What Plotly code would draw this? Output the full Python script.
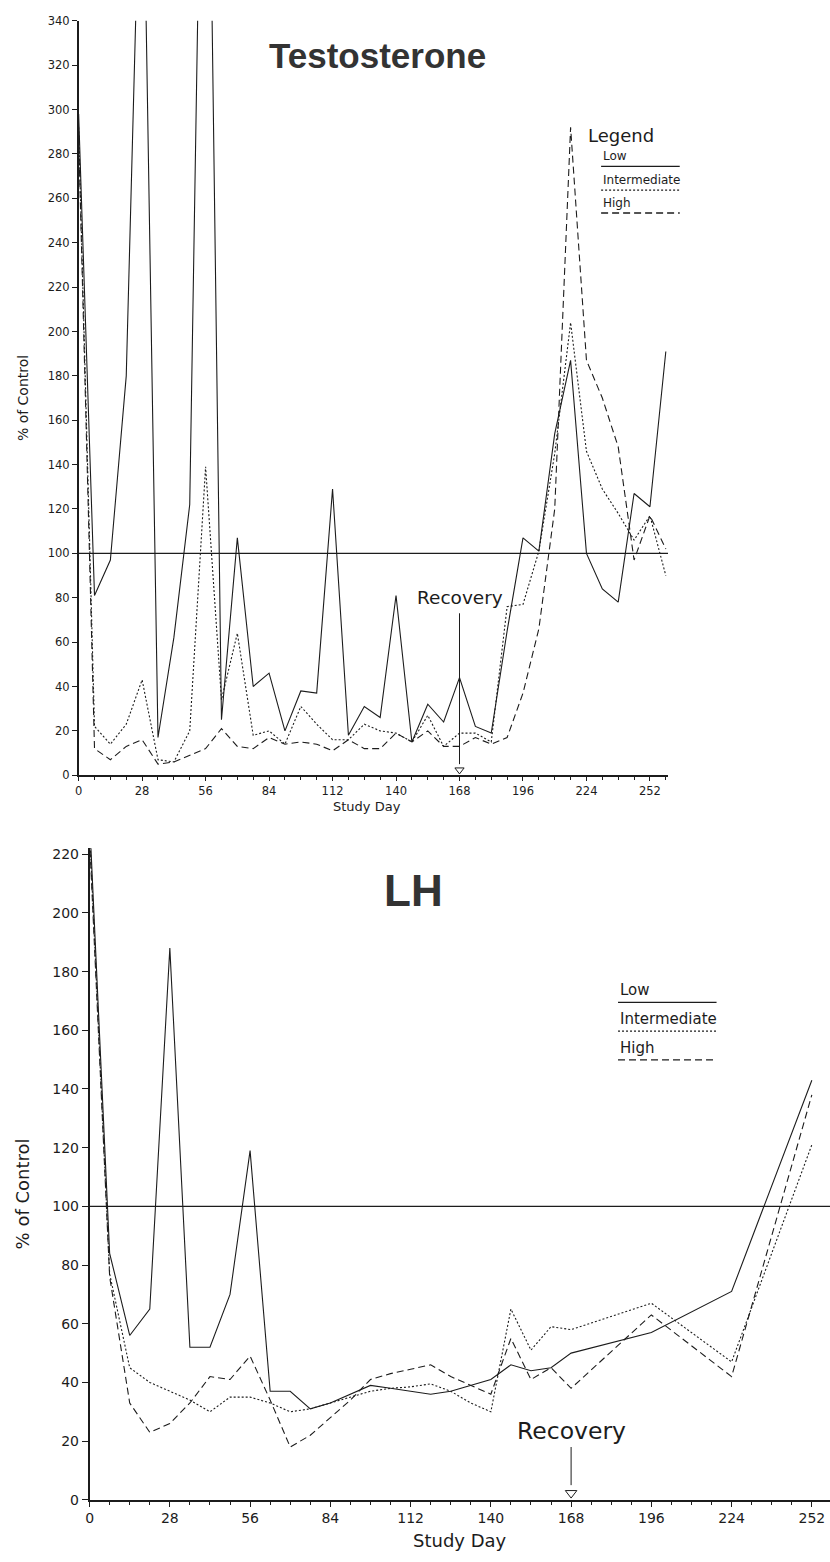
import plotly.graph_objects as go

W, H = 830, 1562

# ---------------- data ----------------
SERIES = ["Low", "Intermediate", "High"]

T_DAYS = [0, 7, 14, 21, 28, 35, 42, 49, 56, 63, 70, 77, 84, 91, 98, 105, 112, 119, 126,
          133, 140, 147, 154, 161, 168, 175, 182, 189, 196, 203, 210, 217, 224, 231,
          238, 245, 252, 259]
T_LOW = [298, 81, 97, 180, 450, 17, 62, 122, 560, 25, 107, 40, 46, 20, 38, 37, 129, 18, 31,
         26, 81, 15, 32, 24, 44, 22, 19, 65, 107, 101, 154, 187, 100, 84, 78, 127, 121, 191]
T_INT = [292, 22, 14, 23, 43, 7, 6, 20, 139, 34, 64, 18, 20, 14, 31, 23, 16, 16, 23,
         20, 19, 15, 27, 13, 19, 19, 15, 76, 77, 101, 145, 204, 146, 129, 118, 106, 117, 90]
T_HIGH = [288, 12, 7, 13, 16, 5, 6, 9, 12, 21, 13, 12, 17, 14, 15, 14, 11, 16, 12,
          12, 19, 15, 20, 13, 13, 17, 14, 17, 37, 66, 120, 292, 187, 170, 148, 97, 117, 102]

LH_DAYS = [0, 7, 14, 21, 28, 35, 42, 49, 56, 63, 70, 77, 84, 91, 98, 105, 112, 119, 126,
           133, 140, 147, 154, 161, 168, 196, 224, 252]
LH_LOW = [232, 84, 56, 65, 188, 52, 52, 70, 119, 37, 37, 31, 33, 36, 39, 38, 37, 36, 37,
          39, 41, 46, 44, 45, 50, 57, 71, 143]
LH_INT = [228, 77, 45, 40, 37, 34, 30, 35, 35, 33, 30, 31, 33, 35, 37, 38, 38.5, 39.5, 37,
          33, 30, 65, 51, 59, 58, 67, 47, 121]
LH_HIGH = [225, 76, 33, 23, 26, 33, 42, 41, 49, 34, 18, 22, 28, 34, 41, 43, 44.5, 46, 42,
           39, 36, 55, 41, 45, 38, 63, 42, 138]

X_TICKS = [0, 28, 56, 84, 112, 140, 168, 196, 224, 252]
T_Y_TICKS = list(range(0, 341, 20))
LH_Y_TICKS = list(range(0, 221, 20))
RECOVERY_DAY = 168
CONTROL_LEVEL = 100

# ---------------- helpers ----------------
def fx(p):
    return p / W


def fy(p):
    return 1 - p / H


INK = "#1c1c1c"
TICK_FONT = "DejaVu Sans"
DASHES = {"Low": "solid", "Intermediate": "2px,2px", "High": "7px,4px"}

T_XMAX = 260
LH_XMAX = (830 - 86) / 2.88
T_YMAX = 340
LH_YMAX = 222

fig = go.Figure()

for name, vals in zip(SERIES, [T_LOW, T_INT, T_HIGH]):
    fig.add_trace(go.Scatter(x=T_DAYS, y=vals, mode="lines", name=name, showlegend=False,
                             xaxis="x", yaxis="y",
                             line=dict(color=INK, width=1.1, dash=DASHES[name])))
for name, vals in zip(SERIES, [LH_LOW, LH_INT, LH_HIGH]):
    fig.add_trace(go.Scatter(x=LH_DAYS, y=vals, mode="lines", name=name, showlegend=False,
                             xaxis="x2", yaxis="y2",
                             line=dict(color=INK, width=1.1, dash=DASHES[name])))

# open arrow heads of the recovery arrows
fig.add_trace(go.Scatter(x=[RECOVERY_DAY], y=[2.4], mode="markers", xaxis="x", yaxis="y",
                         showlegend=False, cliponaxis=False, hoverinfo="skip",
                         marker=dict(symbol="triangle-down-open", size=8,
                                     line=dict(color=INK, width=1), color=INK)))
fig.add_trace(go.Scatter(x=[RECOVERY_DAY], y=[2.3], mode="markers", xaxis="x2", yaxis="y2",
                         showlegend=False, cliponaxis=False, hoverinfo="skip",
                         marker=dict(symbol="triangle-down-open", size=10,
                                     line=dict(color=INK, width=1), color=INK)))

axis_common = dict(showline=True, linecolor=INK, linewidth=1.5, showgrid=False,
                   zeroline=False, ticks="outside", tickcolor=INK, tickwidth=1,
                   mirror=False)

fig.update_layout(
    width=W, height=H,
    margin=dict(l=0, r=0, t=0, b=0),
    paper_bgcolor="white", plot_bgcolor="white",
    showlegend=False,
    xaxis=dict(domain=[fx(75), fx(667.3)], range=[0, T_XMAX], anchor="y",
               tickvals=X_TICKS, ticklen=4,
               tickfont=dict(family=TICK_FONT, size=11.5, color=INK),
               minor=dict(dtick=7, tick0=0, ticks="outside", ticklen=3, tickcolor=INK),
               **axis_common),
    yaxis=dict(domain=[fy(775.7), fy(14)], range=[0, T_YMAX], anchor="x",
               tickvals=T_Y_TICKS, ticklen=5,
               tickfont=dict(family=TICK_FONT, size=11.5, color=INK),
               **axis_common),
    xaxis2=dict(domain=[fx(86), 1.0], range=[0, LH_XMAX], anchor="y2",
                tickvals=X_TICKS, ticklen=5,
                tickfont=dict(family=TICK_FONT, size=14, color=INK),
                minor=dict(dtick=7, tick0=0, ticks="outside", ticklen=3, tickcolor=INK),
                **axis_common),
    yaxis2=dict(domain=[fy(1507.3), fy(1507.3 - LH_YMAX * 2.963)], range=[0, LH_YMAX],
                anchor="x2", tickvals=LH_Y_TICKS, ticklen=6,
                tickfont=dict(family=TICK_FONT, size=14, color=INK),
                **axis_common),
)

shapes = [
    dict(type="line", xref="x", yref="y", x0=0, x1=T_XMAX, y0=CONTROL_LEVEL, y1=CONTROL_LEVEL,
         line=dict(color=INK, width=1.3)),
    dict(type="line", xref="x2", yref="y2", x0=0, x1=LH_XMAX, y0=CONTROL_LEVEL,
         y1=CONTROL_LEVEL, line=dict(color=INK, width=1.3)),
    dict(type="line", xref="x", yref="y", x0=RECOVERY_DAY, x1=RECOVERY_DAY, y0=73, y1=5,
         line=dict(color=INK, width=1)),
    dict(type="line", xref="x2", yref="y2", x0=RECOVERY_DAY, x1=RECOVERY_DAY, y0=18, y1=5,
         line=dict(color=INK, width=1)),
]

annotations = [
    dict(text="Testosterone", x=fx(375), y=fy(49), xref="paper", yref="paper",
         showarrow=False, xanchor="center", yanchor="middle",
         font=dict(family="Liberation Sans, Arial", size=35, color="#333333", weight=700)),
    dict(text="LH", x=fx(411), y=fy(892), xref="paper", yref="paper",
         showarrow=False, xanchor="center", yanchor="middle",
         font=dict(family="Liberation Sans, Arial", size=44, color="#333333", weight=700)),
    dict(text="% of Control", x=fx(19), y=fy(395), xref="paper", yref="paper",
         showarrow=False, textangle=-90, xanchor="center", yanchor="middle",
         font=dict(family=TICK_FONT, size=14, color=INK)),
    dict(text="Study Day", x=fx(365), y=fy(807), xref="paper", yref="paper",
         showarrow=False, xanchor="center", yanchor="middle",
         font=dict(family=TICK_FONT, size=13, color=INK)),
    dict(text="% of Control", x=fx(19), y=fy(1198), xref="paper", yref="paper",
         showarrow=False, textangle=-90, xanchor="center", yanchor="middle",
         font=dict(family=TICK_FONT, size=18, color=INK)),
    dict(text="Study Day", x=fx(458), y=fy(1548), xref="paper", yref="paper",
         showarrow=False, xanchor="center", yanchor="middle",
         font=dict(family=TICK_FONT, size=18, color=INK)),
    dict(text="Recovery", x=RECOVERY_DAY, y=80, xref="x", yref="y", showarrow=False,
         xanchor="center", yanchor="middle",
         font=dict(family=TICK_FONT, size=18.5, color=INK)),
    dict(text="Recovery", x=RECOVERY_DAY, y=23.5, xref="x2", yref="y2", showarrow=False,
         xanchor="center", yanchor="middle",
         font=dict(family=TICK_FONT, size=23.5, color=INK)),
    dict(text="Legend", x=fx(585), y=fy(130), xref="paper", yref="paper", showarrow=False,
         xanchor="left", yanchor="middle",
         font=dict(family=TICK_FONT, size=18, color=INK)),
]

# legend entries: label with a styled underline
legend_specs = [
    # (x_left, x_right, underline_y_px list, font size)
    (600, 679, [161, 185, 208], 12),
    (617, 716, [1005, 1034, 1063], 15),
]
for (xl, xr, ys, fs) in legend_specs:
    for name, ypx in zip(SERIES, ys):
        annotations.append(dict(text=name, x=fx(xl), y=fy(ypx - 1), xref="paper", yref="paper",
                                showarrow=False, xanchor="left", yanchor="bottom",
                                font=dict(family=TICK_FONT, size=fs, color=INK)))
        shapes.append(dict(type="line", xref="paper", yref="paper", x0=fx(xl), x1=fx(xr),
                           y0=fy(ypx), y1=fy(ypx),
                           line=dict(color=INK, width=1.3, dash=DASHES[name])))

fig.update_layout(shapes=shapes, annotations=annotations)

fig.write_html("out.html")
